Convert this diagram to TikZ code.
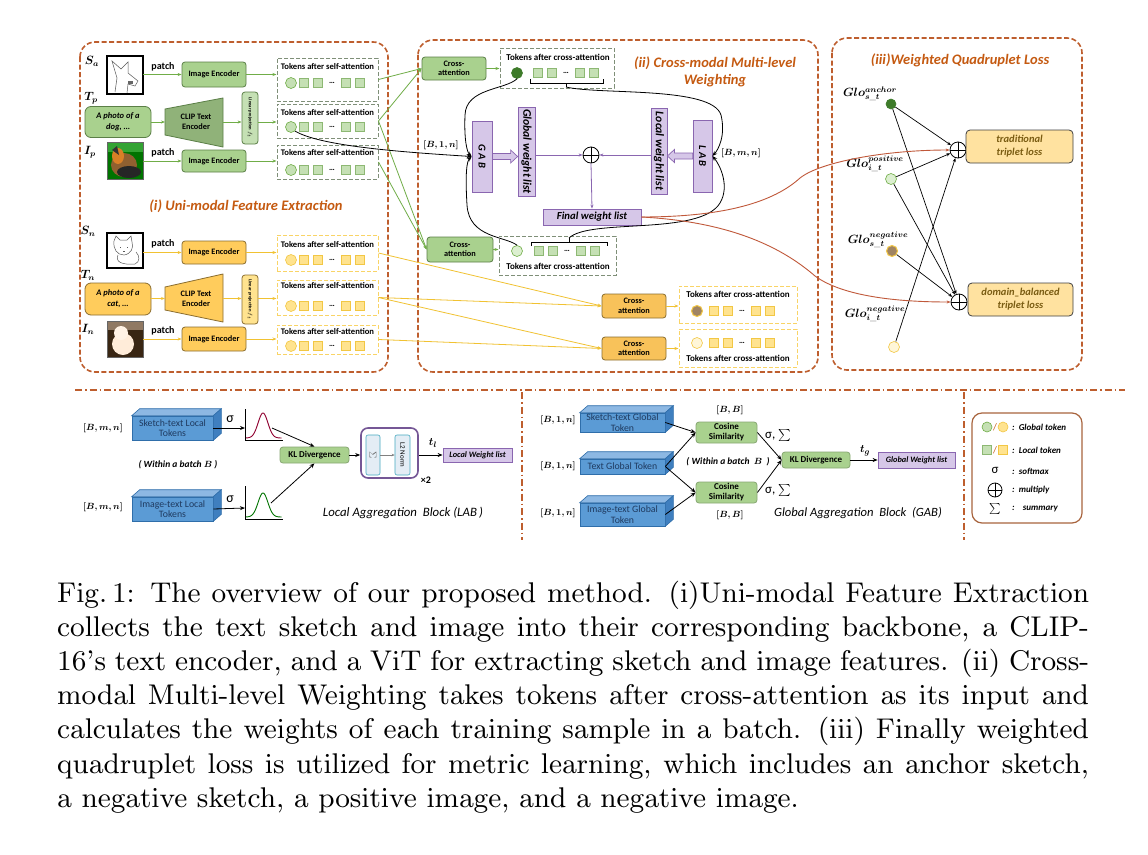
\documentclass[tikz,border=0pt]{standalone}
\usepackage{amsmath}
\usepackage{bm}
\usepackage{fontspec}
\newfontfamily\carl{Carlito}
\font\capf=cmr9 at 28.5pt
\usetikzlibrary{arrows.meta,calc}
\definecolor{gfill}{HTML}{A9D18E}
\definecolor{gdraw}{HTML}{5B7F47}
\definecolor{gline}{HTML}{70AD47}
\definecolor{gtok}{HTML}{C5E0B4}
\definecolor{gtokd}{HTML}{8DB873}
\definecolor{gdash}{HTML}{7F8F78}
\definecolor{gdark}{HTML}{3E7B2A}
\definecolor{glight}{HTML}{DCEFD0}
\definecolor{yfill}{HTML}{FFCC5C}
\definecolor{ofill}{HTML}{F8C25A}
\definecolor{ydraw}{HTML}{8A6D2F}
\definecolor{ytok}{HTML}{FFE38F}
\definecolor{ytokd}{HTML}{F2C744}
\definecolor{ydash}{HTML}{F9D466}
\definecolor{yline}{HTML}{F1C232}
\definecolor{ylight}{HTML}{FFF6D8}
\definecolor{pfill}{HTML}{D6C7E8}
\definecolor{pdraw}{HTML}{8A66B0}
\definecolor{bfill}{HTML}{5B9BD5}
\definecolor{bside}{HTML}{3F7FBF}
\definecolor{btop}{HTML}{8DB8E3}
\definecolor{bdraw}{HTML}{2F6EAA}
\definecolor{btext}{HTML}{1F3A5F}
\definecolor{panelc}{HTML}{BE5E2E}
\definecolor{ttlc}{HTML}{C55A11}
\definecolor{redc}{HTML}{C0583A}
\definecolor{lossfill}{HTML}{FFE2A0}
\definecolor{losstext}{HTML}{7A5C12}
\definecolor{negs}{HTML}{A08462}
\definecolor{legc}{HTML}{A8643E}
\definecolor{sigc}{HTML}{45A9C0}
\definecolor{sigf}{HTML}{E4EDF5}
\newcommand\fsz[2]{\fontsize{#1}{#2}\selectfont}
\tikzset{
  panelb/.style={draw=panelc, line width=1.6pt, rounded corners=15pt, dash pattern=on 5pt off 2.5pt},
  sepline/.style={draw=panelc, line width=1.2pt, dash pattern=on 7pt off 3pt on 1.5pt off 3pt},
  ttl/.style={font=\carl\bfseries\itshape\fsz{14.5}{17}, text=ttlc, inner sep=0pt, align=center},
  mlbl/.style={font=\fsz{9}{11}, inner sep=0pt},
  blbl/.style={font=\fsz{12}{14}, inner sep=0pt},
  glbl/.style={font=\fsz{12}{13}, inner sep=0pt},
  gbox/.style={draw=gdraw, fill=gfill, rounded corners=3pt, line width=0.8pt, font=\carl\bfseries\fsz{8.3}{9.5}, align=center, inner sep=0pt},
  ybox/.style={gbox, draw=ydraw, fill=yfill},
  obox/.style={gbox, draw=ydraw, fill=ofill},
  tokg/.style={draw=gdash, line width=1pt, dash pattern=on 4pt off 2pt, inner sep=0pt},
  toky/.style={draw=ydash, line width=1pt, dash pattern=on 4pt off 2pt, inner sep=0pt},
  toktxt/.style={font=\carl\bfseries\fsz{8.6}{9}, inner sep=0pt},
  ctoktxt/.style={font=\carl\bfseries\fsz{9}{9}, inner sep=0pt},
  sqg/.style={draw=gtokd, fill=gtok, minimum size=9pt, inner sep=0pt, line width=0.5pt},
  sqy/.style={draw=ytokd, fill=ytok, minimum size=9pt, inner sep=0pt, line width=0.5pt},
  cg/.style={circle, draw=gline, fill=gtok, minimum size=11pt, inner sep=0pt, line width=0.6pt},
  cy/.style={circle, draw=ytokd, fill=ytok, minimum size=11pt, inner sep=0pt, line width=0.6pt},
  cgd/.style={cg, draw=gdark, fill=gdark},
  cgl/.style={cg, fill=glight},
  cyb/.style={cy, fill=negs, draw=ytokd, line width=1pt},
  cyl/.style={cy, fill=ylight},
  tdots/.style={font=\carl\bfseries\fsz{8}{8}, inner sep=0pt},
  ga/.style={draw=gline, line width=0.8pt, -{Stealth[length=4pt,width=3pt]}},
  ya/.style={draw=yline, line width=0.8pt, -{Stealth[length=4pt,width=3pt]}},
  ba/.style={draw=black, line width=0.8pt, -{Stealth[length=5pt,width=4pt]}},
  sa/.style={draw=black, line width=0.7pt, -{Stealth[length=4pt,width=3pt]}},
  ra/.style={draw=redc, line width=0.9pt, -{Stealth[length=4pt,width=3pt]}},
  pa/.style={draw=pdraw, line width=0.8pt, -{Stealth[length=4pt,width=3pt]}},
  pbox/.style={draw=pdraw, fill=pfill, line width=0.8pt, inner sep=0pt},
  ptxt/.style={font=\carl\bfseries\itshape\fsz{10.7}{12}, inner sep=0pt},
  imgf/.style={inner sep=0pt, draw=none},
  imgb/.style={draw=black, line width=1.6pt},
  plusn/.style={circle, draw=black, line width=0.8pt, minimum size=16pt, inner sep=0pt},
  patchl/.style={font=\carl\bfseries\fsz{10}{11}, inner sep=0pt},
  bfront/.style={draw=bdraw, fill=bfill, line width=0.6pt, inner sep=0pt, font=\carl\fsz{9.8}{10.5}, text=btext, align=center},
  klbox/.style={gbox, rounded corners=3pt, draw=gfill!80!black, fill=gfill, font=\carl\bfseries\fsz{9}{10}},
  sig/.style={font=\carl\fsz{14}{15}, inner sep=0pt},
  axl/.style={draw=black, line width=0.8pt},
  lossb/.style={draw=black!75, fill=lossfill, rounded corners=4pt, line width=0.8pt, font=\carl\bfseries\itshape\fsz{10.5}{13}, text=losstext, align=center, inner sep=0pt},
  legt/.style={font=\carl\bfseries\itshape\fsz{9}{10}, inner sep=0pt, anchor=west},
  wbt/.style={font=\carl\bfseries\itshape\fsz{9.5}{10}, inner sep=0pt},
  capl/.style={anchor=base west, inner sep=0pt, font=\capf}
}
\newcommand\tokrow[6]{%
  \node[#5] (#1c) at (#2,#3) {};
  \node[#6] (#1a) at (#4,#3) {};
  \node[#6] (#1b) at ([xshift=14pt]#1a) {};
  \node[tdots] (#1d) at ([xshift=28pt]#1a) {…};
  \node[#6] (#1e) at ([xshift=42pt]#1a) {};
  \node[#6] (#1f) at ([xshift=56pt]#1a) {};
}
\newcommand\bluebox[6]{%
  \node[bfront, minimum width=#4pt, minimum height=#5pt] (#1) at (#2,#3) {#6};
  \filldraw[fill=btop, draw=bdraw, line width=0.6pt] (#1.north west) -- ++(8,-7) -- ($(#1.north east)+(8,-7)$) -- (#1.north east) -- cycle;
  \filldraw[fill=bside, draw=bdraw, line width=0.6pt] (#1.north east) -- ++(8,-7) -- ($(#1.south east)+(8,-7)$) -- (#1.south east) -- cycle;
}
\begin{document}
\begin{tikzpicture}[x=1pt,y=-1pt]
\fill[white] (0,0) rectangle (1148,854);
\useasboundingbox (0,0) rectangle (1148,854);

% ================= panels
\draw[panelb] (80,42) rectangle (388,372);
\draw[panelb] (418,40) rectangle (818,372);
\draw[panelb] (832,38) rectangle (1082,370);
\node[ttl] (ttl1) at (246,206) {(i) Uni-modal Feature Extraction};
\node[ttl] (ttl2) at (715,72) {(ii) Cross-modal Multi-level\\Weighting};
\node[ttl] (ttl3) at (960,60) {(iii)Weighted Quadruplet Loss};

% ================= panel (i)
\node[blbl] (lsa) at (92,61) {$\bm{S_a}$};
\node[blbl] (ltp) at (91,98) {$\bm{T_p}$};
\node[blbl] (lip) at (90,152) {$\bm{I_p}$};
\node[blbl] (lsn) at (88,231) {$\bm{S_n}$};
\node[blbl] (ltn) at (88,275) {$\bm{T_n}$};
\node[blbl] (lin) at (88,329) {$\bm{I_n}$};

% sketch S_a
\node[imgf, fill=white, minimum width=36pt, minimum height=38pt] (img1) at (125,75) {};
\draw[black!65, line width=0.5pt] (115,92) -- (117,78) -- (112,61) -- (121,69) -- (128,62) -- (128,73) -- (138,81) -- (135,86) -- (128,84) -- (127,93);
\fill[black!60] (128,81) rectangle (133,84);
\draw[imgb] (img1.north west) rectangle (img1.south east);
% dog photo I_p
\node[imgf, fill=green!45!black, minimum width=36pt, minimum height=37pt] (img2) at (125,160.5) {};
\fill[green!55!black!80] (107,142) rectangle (143,152);
\fill[brown!75!black] (124,165) ellipse (13 and 12);
\fill[black!85] (129,172) ellipse (12 and 6);
\fill[brown!60!orange] (118,156) ellipse (6 and 8);
\fill[black!80] (112,150) -- (117,146) -- (119,155) -- cycle;
\draw[black!60, line width=0.6pt] (img2.north west) rectangle (img2.south east);
% cat sketch S_n
\node[imgf, fill=white, minimum width=36pt, minimum height=35pt] (img3) at (125,250.5) {};
\draw[black!65, line width=0.5pt] (114,241) -- (116,236) -- (120,240) -- (127,240) -- (131,236) -- (132,242) .. controls (134,248) and (131,254) .. (124,255) .. controls (117,255) and (113,249) .. (114,241);
\draw[black!65, line width=0.5pt] (118,255) .. controls (115,262) and (122,265) .. (135,264) .. controls (140,262) and (140,256) .. (136,252);
\draw[black!65, line width=0.5pt] (120,247) -- (121,247) (127,247) -- (128,247) (123,251) -- (125,251);
\draw[imgb] (img3.north west) rectangle (img3.south east);
% cat photo I_n
\node[imgf, fill=black!70!brown, minimum width=36pt, minimum height=36pt] (img4) at (125,339) {};
\fill[brown!50!black!70] (107,321) rectangle (143,330);
\fill[orange!15!white] (123,344) ellipse (11 and 11);
\fill[orange!10!white] (121,333) ellipse (7 and 7);
\draw[black!60, line width=0.6pt] (img4.north west) rectangle (img4.south east);

% encoders
\node[gbox, minimum width=64pt, minimum height=25pt] (enc1) at (214,74.5) {Image Encoder};
\node[gbox, minimum width=64pt, minimum height=22pt] (enc2) at (214,161) {Image Encoder};
\node[ybox, minimum width=64pt, minimum height=23pt] (enc3) at (214,252.5) {Image Encoder};
\node[ybox, minimum width=64pt, minimum height=24pt] (enc4) at (214,339) {Image Encoder};
\node[patchl] (p1) at (163,67) {patch};
\node[patchl] (p2) at (163,153) {patch};
\node[patchl] (p3) at (163,244) {patch};
\node[patchl] (p4) at (163,331) {patch};
\draw[ga] (img1.east |- enc1.west) -- (enc1.west);
\draw[ga] (img2.east |- enc2.west) -- (enc2.west);
\draw[ya] (img3.east |- enc3.west) -- (enc3.west);
\draw[ya] (img4.east |- enc4.west) -- (enc4.west);

% text inputs
\node[gbox, rounded corners=6pt, minimum width=66pt, minimum height=31pt, font=\carl\bfseries\itshape\fsz{8.5}{11}] (txt1) at (118,122) {A photo of a\\dog, …};
\node[ybox, rounded corners=6pt, minimum width=66pt, minimum height=32pt, font=\carl\bfseries\itshape\fsz{8.5}{11}] (txt2) at (118,299) {A photo of a\\cat, …};
% CLIP encoders
\filldraw[draw=gdraw, fill=gfill!85!black, line width=0.8pt] (165,109) -- (223,98) -- (223,147) -- (165,135) -- cycle;
\node[font=\carl\bfseries\fsz{8.3}{10}, align=center, inner sep=0pt] (clip1) at (196,122) {CLIP Text\\Encoder};
\coordinate (clip1w) at (165,122);
\coordinate (clip1e) at (223,122);
\filldraw[draw=ydraw, fill=yfill, line width=0.8pt] (165,287) -- (223,274) -- (223,322) -- (165,310) -- cycle;
\node[font=\carl\bfseries\fsz{8.3}{10}, align=center, inner sep=0pt] (clip2) at (196,298.5) {CLIP Text\\Encoder};
\coordinate (clip2w) at (165,298.5);
\coordinate (clip2e) at (223,298.5);
% linear projections
\node[gbox, fill=gtok, minimum width=16pt, minimum height=52pt] (lp1) at (250,118) {};
\node[rotate=-90, font=\carl\bfseries\fsz{4.6}{5}, inner sep=0pt] (lp1t) at (lp1) {Linear projection $f_t$};
\node[ybox, fill=ytok, minimum width=16pt, minimum height=49pt] (lp2) at (250,299.5) {};
\node[rotate=-90, font=\carl\bfseries\fsz{4.6}{5}, inner sep=0pt] (lp2t) at (lp2) {Linear projection $f_t$};
\draw[ga] (txt1.east |- clip1w) -- (clip1w);
\draw[ga] (clip1e) -- (clip1e -| lp1.west);
\draw[ya] (txt2.east |- clip2w) -- (clip2w);
\draw[ya] (clip2e) -- (clip2e -| lp2.west);

% token boxes (self-attention)
\node[tokg, minimum width=101pt, minimum height=43pt] (tk1) at (327.5,79.5) {};
\node[toktxt] (tk1t) at (327.5,67) {Tokens after self-attention};
\tokrow{r1}{291}{83}{304}{cg}{sqg}
\node[tokg, minimum width=101pt, minimum height=34pt] (tk2) at (327.5,121) {};
\node[toktxt] (tk2t) at (327.5,113) {Tokens after self-attention};
\tokrow{r2}{291}{127}{304}{cg}{sqg}
\node[tokg, minimum width=101pt, minimum height=34pt] (tk3) at (327.5,162) {};
\node[toktxt] (tk3t) at (327.5,153) {Tokens after self-attention};
\tokrow{r3}{291}{170}{304}{cg}{sqg}
\node[toky, minimum width=101pt, minimum height=36pt] (tk4) at (327.5,253) {};
\node[toktxt] (tk4t) at (327.5,245) {Tokens after self-attention};
\tokrow{r4}{291}{260}{304}{cy}{sqy}
\node[toky, minimum width=101pt, minimum height=35pt] (tk5) at (327.5,297.5) {};
\node[toktxt] (tk5t) at (327.5,286) {Tokens after self-attention};
\tokrow{r5}{291}{306}{304}{cy}{sqy}
\node[toky, minimum width=101pt, minimum height=29pt] (tk6) at (327.5,339.5) {};
\node[toktxt] (tk6t) at (327.5,332) {Tokens after self-attention};
\tokrow{r6}{291}{346}{304}{cy}{sqy}
\draw[ga] (enc1.east) -- (enc1.east -| tk1.west);
\draw[ga] (lp1.east |- clip1e) -- (clip1e -| tk2.west);
\draw[ga] (enc2.east) -- (enc2.east -| tk3.west);
\draw[ya] (enc3.east) -- (enc3.east -| tk4.west);
\draw[ya] (lp2.east |- clip2e) -- (clip2e -| tk5.west);
\draw[ya] (enc4.east) -- (enc4.east -| tk6.west);

% ================= panel (ii)
\node[gbox, minimum width=64pt, minimum height=23pt, align=center] (ca1) at (454,68.5) {Cross-\\attention};
\node[gbox, minimum width=66pt, minimum height=25pt, align=center] (ca2) at (460,249.5) {Cross-\\attention};
\node[obox, minimum width=64pt, minimum height=24pt, align=center] (ca3) at (634,306) {Cross-\\attention};
\node[obox, minimum width=64pt, minimum height=23pt, align=center] (ca4) at (634,348.5) {Cross-\\attention};

\node[tokg, minimum width=114pt, minimum height=40pt] (ct1) at (557,68) {};
\node[ctoktxt] (ct1t) at (558,57) {Tokens after cross-attention};
\tokrow{t1}{517}{73}{538}{cgd}{sqg}
\node[tokg, minimum width=117pt, minimum height=39pt] (ct2) at (557.5,255.5) {};
\node[ctoktxt] (ct2t) at (558,266) {Tokens after cross-attention};
\tokrow{t2}{517}{251}{539}{cgl}{sqg}
\node[toky, minimum width=118pt, minimum height=37pt] (ct3) at (738,304.5) {};
\node[ctoktxt] (ct3t) at (738,294) {Tokens after cross-attention};
\tokrow{t3}{697}{311}{714}{cyb}{sqy}
\node[toky, minimum width=118pt, minimum height=38pt] (ct4) at (738,348) {};
\node[ctoktxt] (ct4t) at (738,358) {Tokens after cross-attention};
\tokrow{t4}{697}{343}{714}{cyl}{sqy}

\draw[ga] (ca1.east) -- (ca1.east -| ct1.west);
\draw[ga] (ca2.east) -- (ca2.east -| ct2.west);
\draw[ya] (ca3.east) -- (ca3.east -| ct3.west);
\draw[ya] (ca4.east) -- (ca4.east -| ct4.west);

\draw[ga] (tk1.east) -- (ca1.west);
\draw[ga] (tk2.east) -- (ca1.west);
\draw[ga] (tk2.east) -- (ca2.west);
\draw[ga] (tk3.east) -- (ca2.west);
\draw[ya] (tk4.east) -- (ca3.west);
\draw[ya] (tk5.east) -- (ca3.west);
\draw[ya] (tk5.east) -- (ca4.west);
\draw[ya] (tk6.east) -- (ca4.west);

% brackets
\draw[black, line width=0.6pt] (530,79) -- (530,83) -- (603,83) -- (603,79);
\draw[black, line width=0.6pt] (566,83) -- (566,87) coordinate (tickA);
\draw[black, line width=0.6pt] (531,246) -- (531,242) -- (607,242) -- (607,246);
\draw[black, line width=0.6pt] (569,242) -- (569,238) coordinate (tickB);

% weighting blocks
\node[pbox, minimum width=20pt, minimum height=71pt] (gab) at (482,156.5) {};
\node[ptxt, rotate=-90, font=\carl\bfseries\itshape\fsz{10.5}{11}] (gabt) at (gab) {G A B};
\node[pbox, minimum width=17pt, minimum height=89pt] (gwl) at (526.5,151.5) {};
\node[ptxt, rotate=-90, font=\carl\bfseries\itshape\fsz{11.7}{12}] (gwlt) at (gwl) {Global weight list};
\node[pbox, minimum width=16pt, minimum height=86pt] (lwl) at (659,151) {};
\node[ptxt, rotate=-90, font=\carl\bfseries\itshape\fsz{11.7}{12}] (lwlt) at (lwl) {Local weight list};
\node[pbox, minimum width=19pt, minimum height=72pt] (lab) at (702.5,156) {};
\node[ptxt, rotate=-90, font=\carl\bfseries\itshape\fsz{10.5}{11}] (labt) at (lab) {L A B};
\node[plusn] (plus0) at (591,155) {};
\draw[line width=0.7pt] (plus0.north) -- (plus0.south) (plus0.west) -- (plus0.east);
\node[pbox, minimum width=98pt, minimum height=16pt] (fwl) at (592,217) {};
\node[ptxt] (fwlt) at (fwl) {Final weight list};

% hollow arrows
\filldraw[draw=pdraw, fill=pfill, line width=0.7pt] ($(gab.east)+(0,-3)$) -- ($(gwl.west |- gab.east)+(-7,-3)$) -- ($(gwl.west |- gab.east)+(-7,-6.5)$) -- (gwl.west |- gab.east) -- ($(gwl.west |- gab.east)+(-7,6.5)$) -- ($(gwl.west |- gab.east)+(-7,3)$) -- ($(gab.east)+(0,3)$) -- cycle;
\filldraw[draw=pdraw, fill=pfill, line width=0.7pt] ($(lab.west)+(0,-3)$) -- ($(lwl.east |- lab.west)+(7,-3)$) -- ($(lwl.east |- lab.west)+(7,-6.5)$) -- (lwl.east |- lab.west) -- ($(lwl.east |- lab.west)+(7,6.5)$) -- ($(lwl.east |- lab.west)+(7,3)$) -- ($(lab.west)+(0,3)$) -- cycle;
\draw[pa] (gwl.east |- plus0) -- (plus0.west);
\draw[pa] (lwl.west |- plus0) -- (plus0.east);
\draw[pa] (plus0.south) -- (fwl.north);

\node[mlbl] (b1n) at (441,145) {$\bm{[B,1,n]}$};
\node[mlbl] (bmn) at (741,153) {$\bm{[B,m,n]}$};

% black curves
\draw[ba] (r2c.south east) .. controls (320,146) and (400,152) .. (gab.west);
\draw[ba] (t1c.south) .. controls (505,90) and (466,88) .. (465,115) .. controls (464,140) and (467,152) .. (gab.west);
\draw[ba] (t2c.north) .. controls (505,236) and (469,238) .. (467,205) .. controls (465,172) and (467,161) .. (gab.west);
\draw[ba] (tickA) .. controls (600,95) and (712,86) .. (721,115) .. controls (726,136) and (718,150) .. (lab.east);
\draw[ba] (tickB) .. controls (590,218) and (700,236) .. (720,203) .. controls (730,186) and (720,165) .. (lab.east);

% ================= panel (iii)
\node[cgd, minimum size=10pt] (cA) at (891,104) {};
\node[cgl, minimum size=11pt] (cP) at (891,179) {};
\node[cyb, minimum size=11pt] (cN) at (892,251) {};
\node[cyl, minimum size=11pt] (cI) at (894,347) {};
\node[glbl] (gA) at (870,94) {$\bm{Glo}^{\bm{anchor}}_{\bm{s}\_\bm{t}}$};
\node[glbl] (gP) at (875,164) {$\bm{Glo}^{\bm{positive}}_{\bm{i}\_\bm{t}}$};
\node[glbl] (gN) at (878,240) {$\bm{Glo}^{\bm{negative}}_{\bm{s}\_\bm{t}}$};
\node[glbl] (gI) at (875,314) {$\bm{Glo}^{\bm{negative}}_{\bm{i}\_\bm{t}}$};
\node[plusn] (plus1) at (958,150) {};
\draw[line width=0.7pt] (plus1.north) -- (plus1.south) (plus1.west) -- (plus1.east);
\node[plusn] (plus2) at (959,302) {};
\draw[line width=0.7pt] (plus2.north) -- (plus2.south) (plus2.west) -- (plus2.east);
\node[lossb, minimum width=107pt, minimum height=33pt] (loss1) at (1019.5,146.5) {traditional\\triplet loss};
\node[lossb, minimum width=105pt, minimum height=33pt] (loss2) at (1020.5,299.5) {domain\_balanced\\triplet loss};
\draw[sa] (cA) -- (plus1);
\draw[sa] (cA) -- (plus2);
\draw[sa] (cP) -- (plus1);
\draw[sa] (cP) -- (plus2);
\draw[sa] (cN) -- (plus2);
\draw[sa] (cI) -- (plus1);

% red curves
\draw[ra] (fwl.east) .. controls (735,217) and (778,198) .. (800,178) .. controls (820,162) and (885,150) .. (plus1.west);
\draw[ra] (fwl.east) .. controls (735,222) and (785,250) .. (815,276) .. controls (845,298) and (905,302) .. (plus2.west);

% ================= separators
\draw[sepline] (75,390) -- (1125,390);
\draw[sepline] (522,392) -- (522,540);
\draw[sepline] (964,392) -- (964,540);

% ================= LAB detail
\node[mlbl] (bmn1) at (103,428) {$\bm{[B,m,n]}$};
\node[mlbl] (bmn2) at (103,507) {$\bm{[B,m,n]}$};
\bluebox{bx1}{172.5}{428}{81}{24}{Sketch-text Local\\Tokens}
\bluebox{bx2}{172.5}{509}{81}{24}{Image-text Local\\Tokens}
\node[sig] (s1) at (230,419) {σ};
\node[sig] (s2) at (230,499) {σ};
\coordinate (ax1) at (245,428);
\coordinate (ax2) at (245,508);
\draw[axl] (245,409) -- (245,440) -- (283,440);
\draw[axl] (245,486) -- (245,519) -- (283,519);
\draw[purple!75!black, line width=0.9pt] plot[domain=-1:1.1,samples=45,smooth] ({263+17*\x},{438-25*exp(-6*(\x)*(\x))});
\draw[green!45!black, line width=0.9pt] plot[domain=-1:1.1,samples=45,smooth] ({263+17*\x},{517-24*exp(-6*(\x)*(\x))});
\draw[ba] (bx1.east) -- (ax1);
\draw[ba] (bx2.east) -- (ax2);
\coordinate (g1t) at (272,428);
\coordinate (g2t) at (271,503);
\node[klbox, minimum width=69pt, minimum height=16pt] (kl1) at (314.5,455) {KL Divergence};
\draw[ba] (g1t) -- (kl1.north);
\draw[ba] (g2t) -- (kl1.south);
\node[wbt] (wb1) at (178,465) {( Within a batch $\bm{B}$ )};
\node[draw=pdraw!85!black, line width=1.6pt, rounded corners=7pt, minimum width=57pt, minimum height=50pt, inner sep=0pt] (lab2) at (389.5,453) {};
\node[draw=sigc, fill=sigf, rounded corners=2pt, minimum width=14pt, minimum height=40pt, line width=0.6pt, inner sep=0pt] (sb) at (373,455) {};
\node[rotate=-90, font=\fsz{10}{11}, inner sep=0pt, text=black!60] (sbt) at (sb) {$\Sigma$};
\node[draw=sigc, fill=sigf, rounded corners=2pt, minimum width=15pt, minimum height=40pt, line width=0.6pt, inner sep=0pt] (l2) at (402.5,455) {};
\node[rotate=-90, font=\carl\fsz{7}{8}, inner sep=0pt] (l2t) at (l2) {L2 Norm};
\draw[draw=black!50, line width=0.5pt, -{Stealth[length=3pt,width=2.5pt]}] (sb.east) -- (l2.west);
\draw[ba] (kl1.east) -- (kl1.east -| lab2.west);
\node[font=\carl\bfseries\fsz{10}{11}, inner sep=0pt] (x2) at (426,480) {×2};
\node[font=\fsz{11}{12}, inner sep=0pt] (tl) at (433,443) {$\bm{t_l}$};
\node[pbox, minimum width=69pt, minimum height=14pt] (lwlb) at (477.5,455) {};
\node[ptxt, font=\carl\bfseries\itshape\fsz{8.3}{9}] (lwlbt) at (lwlb) {Local Weight list};
\draw[ba] (lab2.east |- lwlb.west) -- (lwlb.west);
\node[font=\carl\itshape\fsz{12.8}{14}, inner sep=0pt] (labcap) at (403,513) {Local Aggregation\ \ Block\ (LAB\,)};

% ================= GAB detail
\node[mlbl] (bg1) at (558,420) {$\bm{[B,1,n]}$};
\node[mlbl] (bg2) at (558,466) {$\bm{[B,1,n]}$};
\node[mlbl] (bg3) at (558,513) {$\bm{[B,1,n]}$};
\bluebox{bx3}{622.5}{422.5}{85}{19}{Sketch-text Global\\Token}
\bluebox{bx4}{622.5}{466.5}{85}{15}{Text Global Token}
\bluebox{bx5}{622.5}{514.5}{85}{23}{Image-text Global\\Token}
\node[klbox, minimum width=61pt, minimum height=21pt, align=center] (cos1) at (726.5,432.5) {Cosine\\Similarity};
\node[klbox, minimum width=61pt, minimum height=21pt, align=center] (cos2) at (726.5,492.5) {Cosine\\Similarity};
\node[mlbl] (bb1) at (730,410) {$\bm{[B,B]}$};
\node[mlbl] (bb2) at (730,515) {$\bm{[B,B]}$};
\node[wbt] (wb2) at (728,462) {( Within a batch\ \ $\bm{B}$\ \ )};
\node[font=\carl\fsz{13}{14}, inner sep=0pt] (ss1) at (778,435) {σ, $\sum$};
\node[font=\carl\fsz{13}{14}, inner sep=0pt] (ss2) at (778,490) {σ, $\sum$};
\node[klbox, minimum width=68pt, minimum height=16pt] (kl2) at (816,460) {KL Divergence};
\node[font=\fsz{11}{12}, inner sep=0pt] (tg) at (865,451) {$\bm{t_g}$};
\node[pbox, minimum width=77pt, minimum height=16pt] (gwlb) at (916.5,460) {};
\node[ptxt, font=\carl\bfseries\itshape\fsz{8.3}{9}] (gwlbt) at (gwlb) {Global Weight list};
\draw[ba] (bx3.east) -- (cos1.west);
\draw[ba] (bx4.east) -- (cos1.west);
\draw[ba] (bx4.east) -- (cos2.west);
\draw[ba] (bx5.east) -- (cos2.west);
\draw[ba] (cos1.east) -- (kl2.west);
\draw[ba] (cos2.east) -- (kl2.west);
\draw[ba] (kl2.east) -- (gwlb.west);
\node[font=\carl\itshape\fsz{12.6}{14}, inner sep=0pt] (gabcap) at (858,513) {Global Aggregation\ \ Block\ \ (GAB)};

% ================= legend
\node[draw=legc, line width=1.2pt, rounded corners=10pt, minimum width=110pt, minimum height=110pt, inner sep=0pt] (leg) at (1027,468) {};
\node[cg, minimum size=10pt] (lg1) at (987,427) {};
\node[font=\carl\fsz{10}{11}, text=ttlc, inner sep=0pt] (lsl1) at (995,427) {/};
\node[cy, minimum size=10pt] (lg2) at (1003,427) {};
\node[legt] (lt1) at (1012,427) {:\ \ Global token};
\node[sqg] (lq1) at (987,450) {};
\node[font=\carl\fsz{10}{11}, text=ttlc, inner sep=0pt] (lsl2) at (995,450) {/};
\node[sqy] (lq2) at (1003,450) {};
\node[legt] (lt2) at (1012,450) {:\ \ Local token};
\node[font=\carl\fsz{13}{14}, inner sep=0pt] (lsig) at (995,470) {σ};
\node[legt] (lt3) at (1012,471) {:\ \ softmax};
\node[plusn, minimum size=14pt] (lplus) at (995,490) {};
\draw[line width=0.7pt] (lplus.north) -- (lplus.south) (lplus.west) -- (lplus.east);
\node[legt] (lt4) at (1012,490) {:\ \ multiply};
\node[font=\fsz{11}{12}, inner sep=0pt] (lsum) at (995,509) {$\sum$};
\node[legt] (lt5) at (1012,509) {:\ \ \ \ summary};

% ================= caption
\node[capl] (cap1) at (57,602) {\makebox[1033pt][s]{Fig.\,1: The overview of our proposed method. (i)Uni-modal Feature Extraction}};
\node[capl] (cap2) at (57,636.2) {\makebox[1033pt][s]{collects the text sketch and image into their corresponding backbone, a CLIP-}};
\node[capl] (cap3) at (57,670.4) {\makebox[1033pt][s]{16's text encoder, and a ViT for extracting sketch and image features. (ii) Cross-}};
\node[capl] (cap4) at (57,704.6) {\makebox[1033pt][s]{modal Multi-level Weighting takes tokens after cross-attention as its input and}};
\node[capl] (cap5) at (57,738.8) {\makebox[1033pt][s]{calculates the weights of each training sample in a batch. (iii) Finally weighted}};
\node[capl] (cap6) at (57,773) {\makebox[1033pt][s]{quadruplet loss is utilized for metric learning, which includes an anchor sketch,}};
\node[capl] (cap7) at (57,807.2) {a negative sketch, a positive image, and a negative image.};
\end{tikzpicture}
\end{document}
